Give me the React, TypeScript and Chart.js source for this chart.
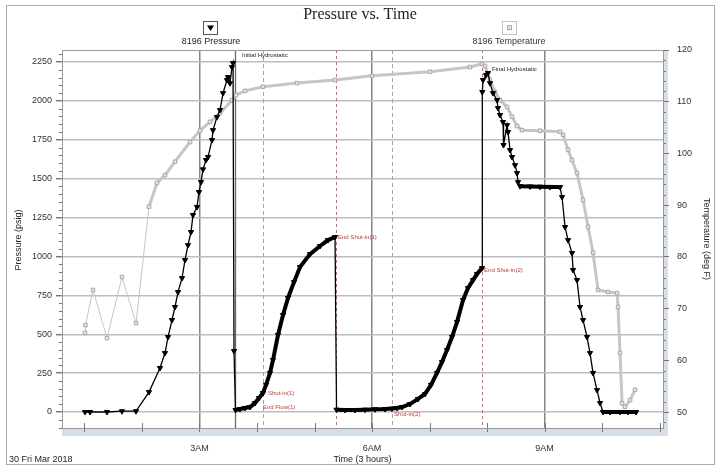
import React, { useEffect, useRef } from "react";
import { Chart, registerables } from "chart.js";
Chart.register(...registerables);

// ---- data ----
const pressureHours = [
  1.009, 1.096, 1.391, 1.652, 1.896, 2.122, 2.313, 2.4, 2.452, 2.522, 2.574, 2.626, 2.696, 2.748, 2.8, 2.852, 2.887, 2.957, 2.991, 3.026, 3.061, 3.113, 3.148, 3.217, 3.235, 3.304, 3.357, 3.409, 3.478, 3.496, 3.53, 3.565, 3.583, 3.6, 3.626,
  3.704, 3.791, 3.878, 3.965, 4.035, 4.104, 4.157, 4.226, 4.278, 4.365, 4.452, 4.539, 4.643, 4.748, 4.922, 5.096, 5.235, 5.357,
  5.383, 5.53, 5.704, 5.878, 6.052, 6.226, 6.348,
  6.435, 6.522, 6.661, 6.8, 6.922, 7.026, 7.13, 7.217, 7.304, 7.391, 7.478, 7.583, 7.67, 7.757, 7.826, 7.913,
  7.918, 7.93, 7.983, 8.017, 8.052, 8.104, 8.174, 8.191, 8.226, 8.278, 8.287, 8.348, 8.365, 8.4, 8.435, 8.487, 8.522, 8.539, 8.574, 8.748, 8.922, 9.096, 9.27,
  9.304, 9.357, 9.409, 9.478, 9.496, 9.565, 9.617, 9.67, 9.739, 9.791, 9.843, 9.913, 9.965, 10.017, 10.139, 10.313, 10.452, 10.591,
];
const pressurePsig = [
  0, 0, 0, 5, 5, 128, 283, 379, 482, 591, 675, 771, 861, 977, 1073, 1157, 1266, 1318, 1414, 1478, 1560, 1620, 1639, 1748, 1812, 1896, 1941, 2050, 2134, 2153, 2114, 2217, 2243, 392, 13,
  19, 26, 32, 58, 90, 122, 174, 251, 334, 495, 623, 733, 835, 932, 1015, 1067, 1105, 1125,
  15, 13, 13, 15, 17, 19, 22,
  26, 32, 51, 84, 116, 174, 251, 321, 398, 482, 578, 720, 797, 848, 887, 925,
  2057, 2134, 2166, 2179, 2114, 2050, 2005, 1954, 1909, 1864, 1716, 1844, 1800, 1684, 1639, 1587, 1536, 1478, 1452, 1450, 1448, 1447, 1446,
  1382, 1189, 1105, 1022, 913, 848, 675, 591, 482, 379, 251, 141, 58, 0, 0, 0, 0, 0,
];
const temperatureHours = [
  1.009, 1.017, 1.148, 1.391, 1.652, 1.896, 2.122, 2.261, 2.4, 2.574, 2.835, 3.009, 3.183, 3.357, 3.565, 3.635, 3.791, 4.104, 4.696, 5.357, 6.0, 7.009, 7.704, 7.913,
  7.965, 8.052, 8.139, 8.226, 8.348, 8.435, 8.522, 8.609, 8.922, 9.27, 9.322, 9.409, 9.478, 9.565, 9.67, 9.757, 9.843, 9.93, 10.104, 10.261, 10.278, 10.313, 10.348, 10.4, 10.487, 10.574,
];
const temperatureDegF = [
  65.3, 66.8, 73.6, 64.3, 76.1, 67.2, 89.7, 94.3, 95.8, 98.4, 102.2, 104.4, 106.1, 107.8, 110.3, 111.3, 112.1, 112.9, 113.6, 114.2, 115.0, 115.8, 116.7, 117.3,
  116.9, 114.2, 111.9, 110.3, 109.0, 107.1, 105.3, 104.5, 104.4, 104.2, 103.6, 100.7, 98.7, 96.2, 91.0, 85.8, 80.8, 73.6, 73.2, 73.0, 70.3, 61.4, 51.7, 51.0, 52.3, 54.3,
];
const pressureTicks = [0, 250, 500, 750, 1000, 1250, 1500, 1750, 2000, 2250];
const temperatureTicks = [50, 60, 70, 80, 90, 100, 110, 120];
const hourTicks = [1, 2, 3, 4, 5, 6, 7, 8, 9, 10, 11];
const hourLabels: Record<number, string> = { 3: "3AM", 6: "6AM", 9: "9AM" };
const eventHours = [3.617, 4.11, 5.374, 6.35, 7.913];
const eventKinds = ["solid", "dashed", "red", "dashed", "red"];
const eventLabels = [
  { text: "Initial Hydrostatic", h: 3.739, p: 2295, color: "#222" },
  { text: "Final Hydrostatic", h: 8.087, p: 2205, color: "#222" },
  { text: "End Shut-in(1)", h: 5.409, p: 1125, color: "#c03a3a" },
  { text: "End Shut-in(2)", h: 7.948, p: 913, color: "#c03a3a" },
  { text: "Shut-in(1)", h: 4.191, p: 122, color: "#c03a3a" },
  { text: "End Flow(1)", h: 4.104, p: 32, color: "#c03a3a" },
  { text: "Shut-in(2)", h: 6.383, p: -13, color: "#c03a3a" },
];
const denseRanges = [
  [3.62, 5.36],
  [5.38, 7.915],
  [8.57, 9.28],
  [10.0, 10.6],
];

const SANS = '"Liberation Sans", Arial, sans-serif';

const decor = {
  id: "decor",
  beforeDraw(chart: any) {
    const { ctx, chartArea: ca } = chart;
    ctx.save();
    ctx.fillStyle = "#fff";
    ctx.fillRect(0, 0, chart.width, chart.height);
    ctx.fillStyle = "#d6dfe7";
    ctx.fillRect(ca.left, ca.bottom, ca.right + 5 - ca.left, 8);
    ctx.fillRect(ca.right, ca.top, 5, ca.bottom - ca.top + 8);
    ctx.restore();
  },
  beforeDatasetsDraw(chart: any) {
    const { ctx, chartArea: ca, scales } = chart;
    eventHours.forEach((h, i) => {
      const px = Math.round(scales.x.getPixelForValue(h)) + 0.5;
      ctx.save();
      const k = eventKinds[i];
      if (k === "solid") {
        ctx.strokeStyle = "#6a6a6a";
        ctx.lineWidth = 1.3;
      } else if (k === "dashed") {
        ctx.strokeStyle = "#a6a6a6";
        ctx.lineWidth = 1;
        ctx.setLineDash([4, 3]);
      } else {
        ctx.strokeStyle = "#cf6b6b";
        ctx.lineWidth = 1;
        ctx.setLineDash([3, 3]);
      }
      ctx.beginPath();
      ctx.moveTo(px, ca.top);
      ctx.lineTo(px, ca.bottom);
      ctx.stroke();
      ctx.restore();
    });
  },
  afterDraw(chart: any) {
    const { ctx, chartArea: ca, scales } = chart;
    const y = scales.y, y1 = scales.y1, x = scales.x;
    ctx.save();
    // minor ticks
    ctx.strokeStyle = "#777";
    ctx.lineWidth = 1;
    ctx.beginPath();
    for (let v = -100; v <= 2300; v += 50) {
      if (v % 250 === 0) continue;
      const py = Math.round(y.getPixelForValue(v)) + 0.5;
      ctx.moveTo(ca.left - 3, py);
      ctx.lineTo(ca.left, py);
    }
    for (let t = 48; t <= 120; t += 2) {
      if (t % 10 === 0) continue;
      const py = Math.round(y1.getPixelForValue(t)) + 0.5;
      ctx.moveTo(ca.right, py);
      ctx.lineTo(ca.right + 3, py);
    }
    hourTicks.forEach((h) => {
      const px = Math.round(x.getPixelForValue(h)) + 0.5;
      ctx.moveTo(px, ca.bottom - 5);
      ctx.lineTo(px, ca.bottom + 4);
    });
    ctx.stroke();
    // plot border
    ctx.strokeStyle = "#999";
    ctx.strokeRect(ca.left + 0.5, ca.top + 0.5, ca.right - ca.left, ca.bottom - ca.top);
    // event labels
    ctx.font = `6px ${SANS}`;
    ctx.textAlign = "left";
    ctx.textBaseline = "middle";
    eventLabels.forEach((l) => {
      ctx.fillStyle = l.color;
      ctx.fillText(l.text, x.getPixelForValue(l.h), y.getPixelForValue(l.p));
    });
    // title
    ctx.fillStyle = "#222";
    ctx.font = `16px "Liberation Serif", "Times New Roman", serif`;
    ctx.textAlign = "center";
    ctx.fillText("Pressure vs. Time", 360, 15);
    // legend
    ctx.font = `9px ${SANS}`;
    ctx.fillStyle = "#222";
    ctx.fillText("8196 Pressure", 211, 42);
    ctx.fillStyle = "#333";
    ctx.fillText("8196 Temperature", 509, 42);
    ctx.strokeStyle = "#555";
    ctx.strokeRect(203.5, 21.5, 14, 13);
    ctx.fillStyle = "#000";
    ctx.beginPath();
    ctx.moveTo(207, 25.5);
    ctx.lineTo(214, 25.5);
    ctx.lineTo(210.5, 31);
    ctx.closePath();
    ctx.fill();
    ctx.strokeStyle = "#c2c2c2";
    ctx.strokeRect(502.5, 21.5, 14, 13);
    ctx.fillStyle = "#e2e2e2";
    ctx.fillRect(507, 25.5, 5, 5);
    ctx.strokeStyle = "#b0b0b0";
    ctx.strokeRect(507.5, 25.5, 4, 4);
    // axis titles
    ctx.fillStyle = "#222";
    ctx.font = `9px ${SANS}`;
    ctx.fillText("Time (3 hours)", (ca.left + ca.right) / 2, 460);
    ctx.textAlign = "left";
    ctx.fillText("30 Fri Mar 2018", 9, 460);
    ctx.textAlign = "center";
    ctx.save();
    ctx.translate(19, 240);
    ctx.rotate(-Math.PI / 2);
    ctx.fillText("Pressure (psig)", 0, 0);
    ctx.restore();
    ctx.save();
    ctx.translate(706, 239);
    ctx.rotate(Math.PI / 2);
    ctx.fillText("Temperature (deg F)", 0, 0);
    ctx.restore();
    // outer frame
    ctx.strokeStyle = "#aaa";
    ctx.strokeRect(6.5, 5.5, 708, 459);
    ctx.restore();
  },
};

export default function App() {
  const ref = useRef<HTMLCanvasElement>(null);
  useEffect(() => {
    document.body.style.margin = "0";
    const canvas = ref.current!;
    const inDense = (a: number, b: number) => denseRanges.some(([s, e]) => a >= s && b <= e);
    const chart = new Chart(canvas, {
      type: "line",
      data: {
        datasets: [
          {
            label: "8196 Pressure",
            data: pressureHours.map((h, i) => ({ x: h, y: pressurePsig[i] })),
            yAxisID: "y",
            order: 0,
            borderColor: "#000",
            backgroundColor: "#000",
            borderWidth: 1.3,
            pointStyle: "triangle",
            rotation: 180,
            pointRadius: 3,
            pointBorderWidth: 1,
            pointBorderColor: "#000",
            pointBackgroundColor: "#000",
            tension: 0,
            segment: {
              borderWidth: (c: any) => (inDense(c.p0.parsed.x, c.p1.parsed.x) ? 4 : 1.3),
            },
          } as any,
          {
            label: "8196 Temperature",
            data: temperatureHours.map((h, i) => ({ x: h, y: temperatureDegF[i] })),
            yAxisID: "y1",
            order: 1,
            borderColor: "#c6c6c6",
            backgroundColor: "#e4e4e4",
            borderWidth: 2.5,
            pointStyle: "rect",
            pointRadius: 2.5,
            pointBorderWidth: 1,
            pointBorderColor: "#a9a9a9",
            pointBackgroundColor: "#e4e4e4",
            tension: 0,
            segment: {
              borderWidth: (c: any) => (c.p0.parsed.x < 2.1 ? 1 : 3),
            },
          } as any,
        ],
      },
      options: {
        responsive: false,
        animation: false,
        devicePixelRatio: 1,
        layout: { padding: { top: 50, left: 0, right: 0, bottom: 0 } },
        plugins: { legend: { display: false }, title: { display: false }, tooltip: { enabled: false } },
        events: [],
        scales: {
          x: {
            type: "linear",
            min: 0.609,
            max: 11.06,
            afterBuildTicks: (s: any) => {
              s.ticks = hourTicks.map((v) => ({ value: v }));
            },
            afterFit: (s: any) => {
              s.height = 40;
            },
            ticks: {
              autoSkip: false,
              maxRotation: 0,
              padding: 7,
              color: "#333",
              font: { family: SANS, size: 9 },
              callback: (v: any) => hourLabels[v as number] || "",
            },
            grid: {
              color: (c: any) => (c.tick && hourLabels[c.tick.value] ? "#858585" : "rgba(0,0,0,0)"),
              lineWidth: 1.5,
              tickLength: 8,
              tickColor: "rgba(0,0,0,0)",
            },
            border: { display: false },
          },
          y: {
            type: "linear",
            position: "left",
            min: -102.9,
            max: 2327.1,
            afterBuildTicks: (s: any) => {
              s.ticks = pressureTicks.map((v) => ({ value: v }));
            },
            afterFit: (s: any) => {
              s.width = 62;
            },
            ticks: {
              padding: 4,
              color: "#333",
              font: { family: SANS, size: 9 },
              callback: (v: any) => String(v),
            },
            grid: { color: "#bdbdbd", lineWidth: 1.4, tickLength: 6, tickColor: "#777" },
            border: { color: "#888" },
          },
          y1: {
            type: "linear",
            position: "right",
            min: 46.91,
            max: 120,
            afterBuildTicks: (s: any) => {
              s.ticks = temperatureTicks.map((v) => ({ value: v }));
            },
            afterFit: (s: any) => {
              s.width = 58;
            },
            ticks: {
              padding: 8,
              color: "#333",
              font: { family: SANS, size: 9 },
              callback: (v: any) => String(v),
            },
            grid: { drawOnChartArea: false, tickLength: 6, tickColor: "#777" },
            border: { color: "#888" },
          },
        },
      } as any,
      plugins: [decor],
    });
    return () => chart.destroy();
  }, []);
  return (
    <div style={{ width: 721, height: 468, position: "relative" }}>
      <canvas ref={ref} width={721} height={468} style={{ display: "block", width: 721, height: 468 }} />
    </div>
  );
}
